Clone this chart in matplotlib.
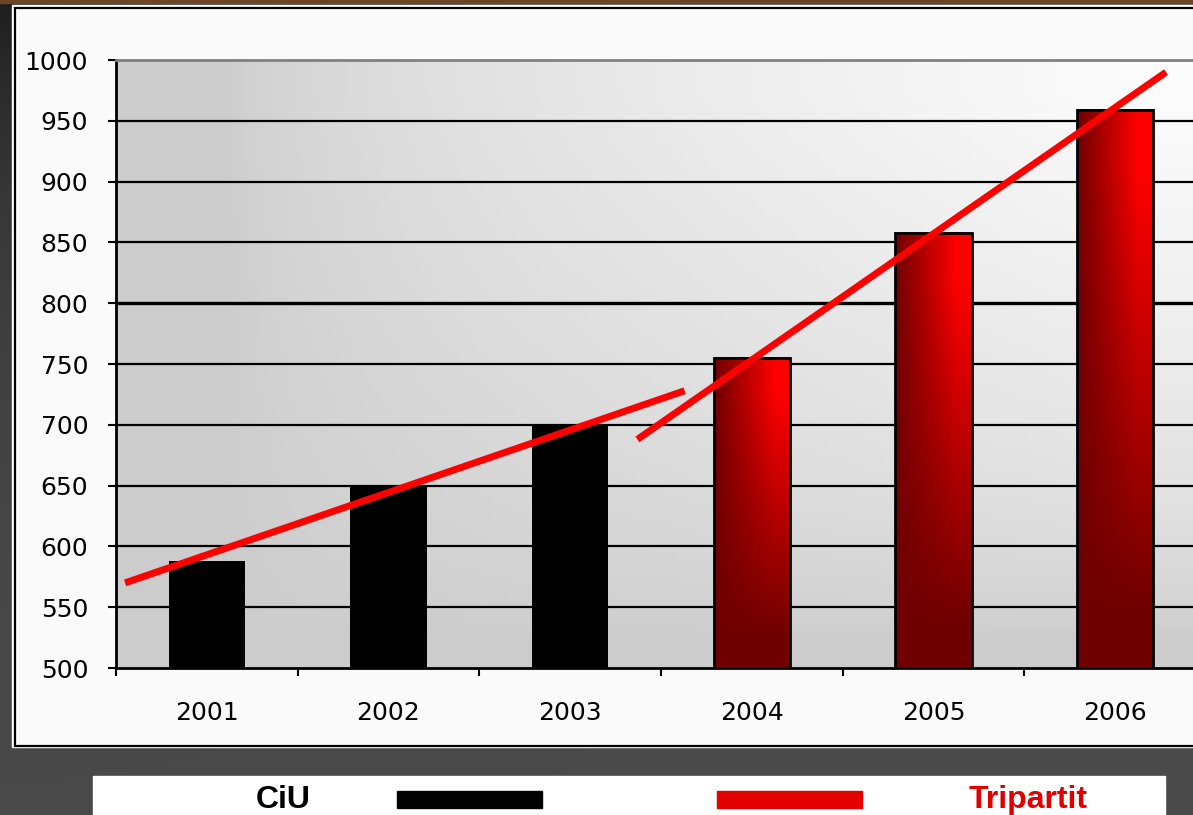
import numpy as np
import matplotlib
matplotlib.use("Agg")
import matplotlib.pyplot as plt
from matplotlib.patches import Rectangle

years = ["2001", "2002", "2003", "2004", "2005", "2006"]
ciu_years = [0, 1, 2]
ciu_values = [588, 649, 701]
tri_years = [3, 4, 5]
tri_values = [755, 858, 959]

# hand-drawn trend strokes (category units, values)
ciu_trend_x = [-0.45, 2.63]
ciu_trend_y = [570, 728]
tri_trend_x = [2.37, 5.28]
tri_trend_y = [688, 990]

y_ticks = list(range(500, 1001, 50))

W, H = 1193, 815
fig = plt.figure(figsize=(W / 100, H / 100), dpi=100)
fig.patch.set_facecolor("#4b4b4b")

# background layer in pixel coordinates
bg = fig.add_axes([0, 0, 1, 1], zorder=-10)
bg.set_xlim(0, W)
bg.set_ylim(H, 0)
bg.axis("off")
yy, xx = np.mgrid[0:H:4, 0:W:4]
shade = 75 - 45 * np.exp(-np.hypot(xx, yy) / 250.0)
bg.imshow(np.dstack([shade] * 3).astype(np.uint8), extent=(0, W, H, 0),
          aspect="auto", zorder=0)
bg.add_patch(Rectangle((0, 0), W, 3, color="#6b4526", zorder=1))
bg.add_patch(Rectangle((12, 5), W, 742, color="white", zorder=1))
bg.add_patch(Rectangle((14.5, 7.5), W, 738, facecolor="#fafafa",
                       edgecolor="black", linewidth=1.6, zorder=2))

# legend strip
bg.add_patch(Rectangle((93, 776), 1072, 60, color="white", zorder=2))
bg.add_patch(Rectangle((397, 791), 145, 17, color="black", zorder=3))
bg.add_patch(Rectangle((717, 791), 145, 17, color="#e30000", zorder=3))
legend_font = ["Liberation Sans", "DejaVu Sans"]
bg.text(283, 800, "CiU", ha="center", va="center", fontsize=23,
        fontweight="bold", color="black", family=legend_font, zorder=4)
bg.text(1028, 800, "Tripartit", ha="center", va="center", fontsize=23,
        fontweight="bold", color="#e00000", family=legend_font, zorder=4)

# main chart, right edge runs past the figure like the original
ax = fig.add_axes([116 / W, 1 - 668 / H, 1090 / W, 608 / H])
ax.set_xlim(-0.5, 5.5)
ax.set_ylim(500, 1000)

gx = np.linspace(0, 1, 200)
gy = np.linspace(0, 1, 120)
t = np.clip((gx[None, :] - 0.1) / 0.85, 0, 1) * np.clip((gy[:, None] - 0.05) / 0.9, 0, 1)
L = 204 + 48 * t ** 0.6
ax.imshow(np.dstack([L] * 3).astype(np.uint8), extent=(-0.5, 5.5, 500, 1000),
          origin="lower", aspect="auto", zorder=0)

for v in y_ticks[1:-1]:
    ax.axhline(v, color="black", linewidth=2.4 if v == 800 else 1.6, zorder=1)

bar_w = 0.42
ax.bar(ciu_years, np.array(ciu_values) - 500, bottom=500, width=bar_w,
       color="black", zorder=3)

# red bars with a shaded fill
bx = np.linspace(0, 1, 64)
by = np.linspace(0, 1, 128)
bt = np.clip(bx[None, :] / 0.8, 0, 1) * np.clip((by[:, None] - 0.1) / 0.8, 0, 1)
red = np.zeros((128, 64, 3))
red[..., 0] = (112 + 143 * bt) / 255.0
for x, v in zip(tri_years, tri_values):
    ax.imshow(red, extent=(x - bar_w / 2, x + bar_w / 2, 500, v),
              origin="lower", aspect="auto", zorder=3)
    ax.add_patch(Rectangle((x - bar_w / 2, 500), bar_w, v - 500, fill=False,
                           edgecolor="black", linewidth=2, zorder=4))

ax.plot(ciu_trend_x, ciu_trend_y, color="#ff0000", linewidth=5,
        solid_capstyle="butt", zorder=5)
ax.plot(tri_trend_x, tri_trend_y, color="#ff0000", linewidth=5,
        solid_capstyle="butt", zorder=5)

ax.set_xlim(-0.5, 5.5)
ax.set_ylim(500, 1000)
ax.set_yticks(y_ticks)
ax.set_yticklabels([str(v) for v in y_ticks])
ax.set_xticks(range(len(years)))
ax.set_xticklabels(years)
ax.set_xticks(np.arange(-0.5, 6, 1.0), minor=True)
ax.tick_params(axis="x", which="major", length=0, pad=24, labelsize=18)
ax.tick_params(axis="x", which="minor", length=6, width=1.5, direction="out")
ax.tick_params(axis="y", length=6, width=1.5, direction="out", pad=14,
               labelsize=18)

ax.spines["right"].set_visible(False)
ax.spines["top"].set_color("#808080")
ax.spines["top"].set_linewidth(2)
ax.spines["left"].set_linewidth(2)
ax.spines["bottom"].set_linewidth(2)

fig.savefig("out.png", dpi=100, facecolor=fig.get_facecolor())
